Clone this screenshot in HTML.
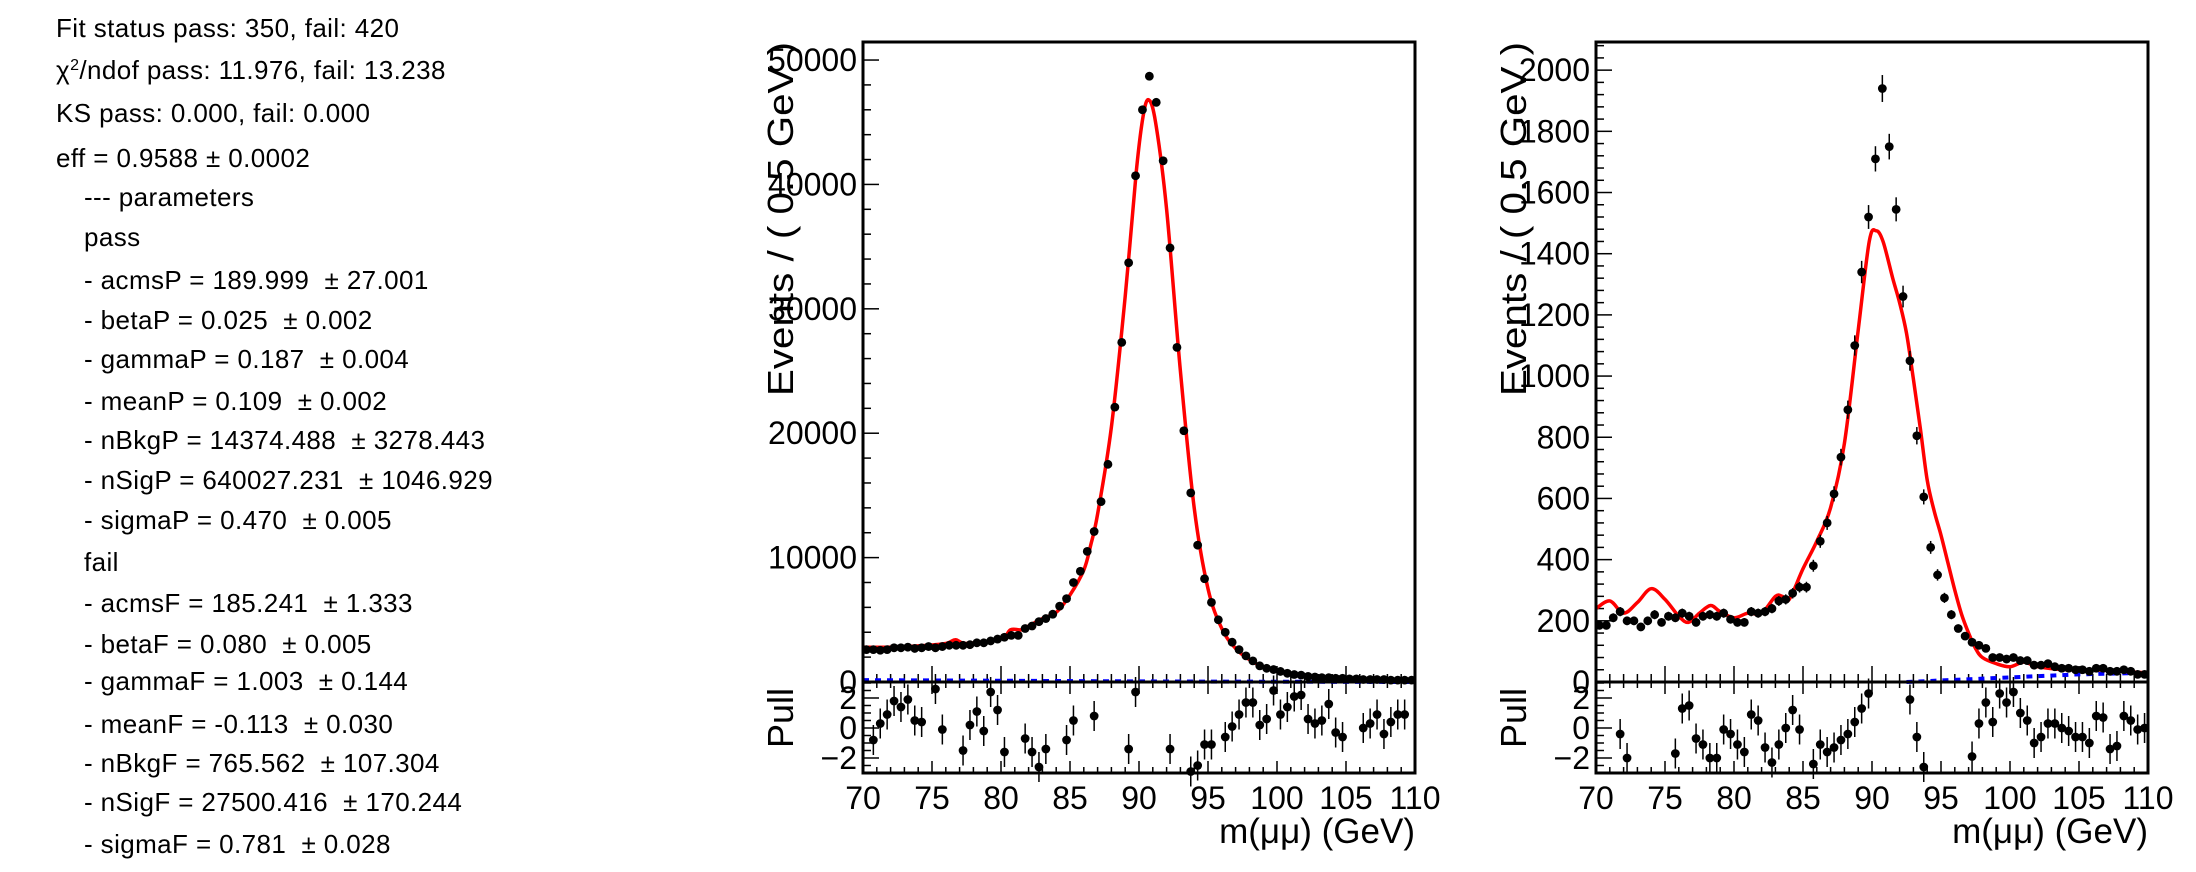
<!DOCTYPE html>
<html><head><meta charset="utf-8"><style>
body{margin:0;background:#fff;width:2196px;height:872px;overflow:hidden;font-family:"Liberation Sans",sans-serif}
#info{position:absolute;left:0;top:0}
#info div{position:absolute;font-size:26px;white-space:nowrap;line-height:1;letter-spacing:0.4px}
svg{position:absolute;left:0;top:0}
</style></head><body>
<div id="info">
<div style="left:56px;top:15px">Fit status pass: 350, fail: 420</div>
<div style="left:56px;top:57px">χ<span style="font-size:16px;vertical-align:9px">2</span>/ndof pass: 11.976, fail: 13.238</div>
<div style="left:56px;top:100px">KS pass: 0.000, fail: 0.000</div>
<div style="left:56px;top:145px">eff = 0.9588 ± 0.0002</div>
<div style="left:84px;top:184px">--- parameters</div>
<div style="left:84px;top:224px">pass</div>
<div style="left:84px;top:267px">- acmsP = 189.999 &nbsp;± 27.001</div>
<div style="left:84px;top:307px">- betaP = 0.025 &nbsp;± 0.002</div>
<div style="left:84px;top:346px">- gammaP = 0.187 &nbsp;± 0.004</div>
<div style="left:84px;top:388px">- meanP = 0.109 &nbsp;± 0.002</div>
<div style="left:84px;top:427px">- nBkgP = 14374.488 &nbsp;± 3278.443</div>
<div style="left:84px;top:467px">- nSigP = 640027.231 &nbsp;± 1046.929</div>
<div style="left:84px;top:507px">- sigmaP = 0.470 &nbsp;± 0.005</div>
<div style="left:84px;top:549px">fail</div>
<div style="left:84px;top:590px">- acmsF = 185.241 &nbsp;± 1.333</div>
<div style="left:84px;top:631px">- betaF = 0.080 &nbsp;± 0.005</div>
<div style="left:84px;top:668px">- gammaF = 1.003 &nbsp;± 0.144</div>
<div style="left:84px;top:711px">- meanF = -0.113 &nbsp;± 0.030</div>
<div style="left:84px;top:750px">- nBkgF = 765.562 &nbsp;± 107.304</div>
<div style="left:84px;top:789px">- nSigF = 27500.416 &nbsp;± 170.244</div>
<div style="left:84px;top:831px">- sigmaF = 0.781 &nbsp;± 0.028</div>
</div>
<svg id="s" width="2196" height="872"></svg>
<script>
const passData=[2.6,2.6,2.55,2.6,2.75,2.75,2.8,2.7,2.75,2.85,2.75,2.85,2.95,2.95,2.95,3.0,3.15,3.15,3.3,3.45,
3.6,3.75,3.75,4.3,4.5,4.85,5.1,5.45,6.1,6.7,
8.0,8.9,10.5,12.1,14.5,17.5,22.1,27.3,33.7,40.7,
46.0,48.7,46.6,41.9,34.9,26.9,20.2,15.2,11.0,8.3,
6.4,5.0,4.0,3.2,2.6,2.1,1.7,1.3,1.1,1.0,
0.85,0.7,0.6,0.55,0.45,0.4,0.35,0.35,0.3,0.3,
0.25,0.25,0.2,0.2,0.2,0.2,0.15,0.15,0.15,0.15];
const passFitX=[70,72,74,76,76.7,77.5,80,80.7,81.5,82,83,84,85,86,86.5,87,88,89,89.8,90.3,90.7,91.2,92,93,94,95,96,97,98,99,100,102,104,106,108,110];
const passFitY=[2.8,2.8,2.9,3.1,3.4,3.1,3.5,4.2,4.2,4.5,5.1,5.6,7.0,9.0,11,13.5,20.5,31,41,45.5,46.8,45,38,25,14,7.5,4.3,2.7,1.8,1.2,0.85,0.5,0.35,0.25,0.2,0.15];
const passPullX=[70.75,71.25,71.75,72.25,72.75,73.25,73.75,74.25,75.25,75.75,77.25,77.75,78.25,78.75,79.25,79.75,80.25,81.75,82.25,82.75,83.25,84.75,85.25,86.75,89.25,89.75,92.25,93.75,94.25,94.75,95.25,96.25,96.75,97.25,97.75,98.25,98.75,99.25,99.75,100.25,100.75,101.25,101.75,102.25,102.75,103.25,103.75,104.25,104.75,106.25,106.75,107.25,107.75,108.25,108.75,109.25];
const passPull=[-0.8,0.3,0.9,1.8,1.4,1.9,0.5,0.4,2.6,-0.1,-1.5,0.2,1.1,-0.2,2.4,1.2,-1.6,-0.7,-1.6,-2.6,-1.4,-0.8,0.5,0.8,-1.4,2.4,-1.4,-2.9,-2.5,-1.1,-1.1,-0.6,0.1,0.9,1.7,1.7,0.2,0.6,2.5,0.9,1.4,2.1,2.2,0.6,0.3,0.5,1.6,-0.3,-0.6,0,0.3,0.9,-0.4,0.4,0.9,0.9];
const failData=[185,185,210,230,200,200,180,200,220,195,215,210,225,215,195,215,220,215,225,205,
195,195,230,225,230,240,265,270,290,310,310,380,460,520,615,735,890,1100,1340,1520,
1710,1940,1750,1545,1260,1050,805,605,440,350,275,220,175,150,130,120,110,80,80,75,
80,70,70,55,55,60,50,45,45,40,40,35,45,45,35,35,40,35,25,25];
const failFitX=[70,71,72,73,74,75,76,76.7,77.5,78.3,79,80,81,82,83,83.5,84,85,86,87,88,89,89.8,90.3,90.8,91.5,92,92.5,93,93.5,94,94.5,95,95.5,96,96.5,97,97.5,98,99,100,101,102,104,106,108,110];
const failFitY=[240,265,225,260,305,270,215,195,225,250,230,210,225,225,280,280,270,370,460,570,780,1150,1440,1475,1440,1320,1240,1140,990,830,660,560,480,390,300,220,160,110,80,60,50,65,50,40,40,35,30];
const failBkgX=[92.5,95,100,105,110];
const failBkgY=[0,5,15,25,30];
const failPullX=[71.75,72.25,75.75,76.25,76.75,77.25,77.75,78.25,78.75,79.25,79.75,80.25,80.75,81.25,81.75,82.25,82.75,83.25,83.75,84.25,84.75,85.75,86.25,86.75,87.25,87.75,88.25,88.75,89.25,89.75,92.75,93.25,93.75,97.25,97.75,98.25,98.75,99.25,99.75,100.25,100.75,101.25,101.75,102.25,102.75,103.25,103.75,104.25,104.75,105.25,105.75,106.25,106.75,107.25,107.75,108.25,108.75,109.25,109.75];
const failPull=[-0.4,-2,-1.7,1.3,1.5,-0.7,-1.1,-2,-2,-0.1,-0.4,-1.1,-1.6,0.9,0.5,-1.3,-2.3,-1.1,0,1.2,-0.1,-2.4,-1.1,-1.6,-1.3,-0.8,-0.4,0.4,1.3,2.3,1.9,-0.6,-2.6,-1.9,0.3,1.7,0.4,2.3,1.7,2.4,1,0.5,-1,-0.6,0.3,0.3,0,-0.2,-0.6,-0.6,-1,0.8,0.7,-1.4,-1.2,0.8,0.5,-0.1,0];
const passTicks=[10000,20000,30000,40000,50000];
const failTicks=[200,400,600,800,1000,1200,1400,1600,1800,2000];
const xTicks=[70,75,80,85,90,95,100,105,110];

const S=document.getElementById('s');const NS='http://www.w3.org/2000/svg';
function mk(t,a,p){const e=document.createElementNS(NS,t);for(const k in a)e.setAttribute(k,a[k]);(p||S).appendChild(e);return e;}
function smooth(pts){let d='M'+pts[0][0]+','+pts[0][1];
  for(let i=0;i<pts.length-1;i++){const p0=pts[Math.max(0,i-1)],p1=pts[i],p2=pts[i+1],p3=pts[Math.min(pts.length-1,i+2)];
    const c1=[p1[0]+(p2[0]-p0[0])/6,p1[1]+(p2[1]-p0[1])/6],c2=[p2[0]-(p3[0]-p1[0])/6,p2[1]-(p3[1]-p1[1])/6];
    d+=' C'+c1[0]+','+c1[1]+' '+c2[0]+','+c2[1]+' '+p2[0]+','+p2[1];}
  return d;}
const FS=32;
function panel(o){
  const L=o.left,R=L+552,T=42,B=682,PB=773;
  const g=mk('g',{});
  
  
  const X=v=>L+(v-70)/40*(R-L);
  const Y=v=>B-(v/o.ymax)*(B-T);
  const P=v=>728-v*15;
  const cl='clip'+o.name;
  const cp=mk('clipPath',{id:cl},g);mk('rect',{x:L,y:T,width:R-L,height:PB-T},cp);
  for(let v=0;v<=o.ymax;v+=o.minor){const y=Y(v);const maj=Math.abs(v/o.major-Math.round(v/o.major))<1e-6;
    mk('line',{x1:L,x2:L+(maj?16:8),y1:y,y2:y,stroke:'#000','stroke-width':1.5},g);}
  o.ticks.forEach(v=>{const t=mk('text',{x:L-6,y:Y(v)+11,'text-anchor':'end','font-size':FS,fill:'#000'},g);t.textContent=v;
    
    });
  const z=mk('text',{x:L-6,y:B+11,'text-anchor':'end','font-size':FS},g);z.textContent='0';
  for(let v=70;v<=110;v+=1){const x=X(v);const maj=v%5==0;
    mk('line',{x1:x,x2:x,y1:B,y2:B-(maj?16:8),stroke:'#000','stroke-width':1.5},g);
    mk('line',{x1:x,x2:x,y1:PB,y2:PB-(maj?12:6),stroke:'#000','stroke-width':1.5},g);
    mk('line',{x1:x,x2:x,y1:B,y2:B+(maj?12:6),stroke:'#000','stroke-width':1.5},g);}
  xTicks.forEach(v=>{const t=mk('text',{x:X(v),y:809,'text-anchor':'middle','font-size':FS},g);t.textContent=v;
    
    });
  for(let v=-3;v<=3;v+=0.5){const y=P(v);const maj=v%2==0;mk('line',{x1:L,x2:L+(maj?16:8),y1:y,y2:y,stroke:'#000','stroke-width':1.5},g);}
  [[2,'2'],[0,'0'],[-2,'\u22122']].forEach(a=>{const t=mk('text',{x:L-6,y:P(a[0])+11,'text-anchor':'end','font-size':FS},g);t.textContent=a[1];});
  const bk=mk('polyline',{points:o.bkgX.map((v,i)=>X(v)+','+Y(o.bkgY[i])).join(' '),fill:'none',stroke:'#00f','stroke-width':4,'stroke-dasharray':'6,6','clip-path':'url(#'+cl+')'},g);
  
  
  const fp=mk('path',{d:smooth(o.fitX.map((v,i)=>[X(v),Y(o.fitY[i])])),fill:'none',stroke:'#f00','stroke-width':3.5,'stroke-linejoin':'round','clip-path':'url(#'+cl+')'},g);
  
  
  o.data.forEach((v,i)=>{const xv=70.25+0.5*i;const x=X(xv),y=Y(v);const e=o.err(v);
    mk('line',{x1:x,x2:x,y1:Y(v+e),y2:Y(v-e),stroke:'#000','stroke-width':1.5,'clip-path':'url(#'+cl+')'},g);
    const c=mk('circle',{cx:x,cy:y,r:4.4,fill:'#000','clip-path':'url(#'+cl+')'},g);
    
    });
  o.pullX.forEach((xv,i)=>{const x=X(xv),y=P(o.pull[i]);
    mk('line',{x1:x,x2:x,y1:y-15,y2:y+15,stroke:'#000','stroke-width':1.5},g);
    const c=mk('circle',{cx:x,cy:y,r:4.4,fill:'#000'},g);
    
    });
  mk('rect',{x:L,y:T,width:R-L,height:PB-T,fill:'none',stroke:'#000','stroke-width':3},g);
  mk('line',{x1:L,x2:R,y1:B,y2:B,stroke:'#000','stroke-width':3},g);
  const yt=mk('text',{transform:'translate('+(L-70)+',396) rotate(-90)','font-size':36,textLength:354,lengthAdjust:'spacingAndGlyphs'},g);
  yt.textContent='Events / ( 0.5 GeV )';
  
  
  const pt=mk('text',{transform:'translate('+(L-70)+',748) rotate(-90)','font-size':36},g);pt.textContent='Pull';
  
  
  const xt=mk('text',{x:R,y:843,'text-anchor':'end','font-size':35},g);xt.textContent='m(\u03bc\u03bc) (GeV)';
  
  
}
panel({name:'pass-plot',left:863,ymax:51450,major:10000,minor:2000,ticks:passTicks,data:passData.map(v=>v*1000),err:v=>Math.sqrt(v),
  fitX:passFitX,fitY:passFitY.map(v=>v*1000),bkgX:[70,92,110],bkgY:[150,40,0],pullX:passPullX,pull:passPull});
panel({name:'fail-plot',left:1596,ymax:2092,major:200,minor:40,ticks:failTicks,data:failData,err:v=>Math.sqrt(v),
  fitX:failFitX,fitY:failFitY,bkgX:failBkgX,bkgY:failBkgY,pullX:failPullX,pull:failPull});
</script>
</body></html>
